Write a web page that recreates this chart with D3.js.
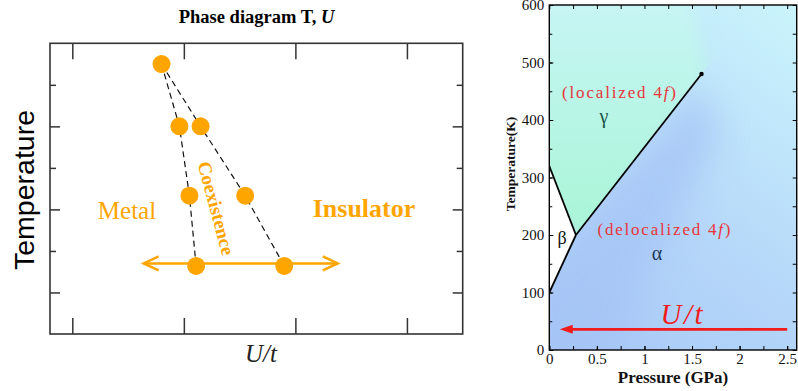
<!DOCTYPE html>
<html>
<head>
<meta charset="utf-8">
<script src="https://cdn.jsdelivr.net/npm/d3@7"></script>
<style>
  body { margin: 0; background: #fff; }
  svg { display: block; }
  text { font-family: "Liberation Serif", "Times New Roman", serif; }
</style>
</head>
<body>
<svg id="chart" width="798" height="391"></svg>
<script>
// ---- left panel: schematic T vs U/t ----
var uTicks = [0.2, 1.2, 2.2, 3.2];
var tOddTicks = [1, 3, 5];       // long inner ticks
var tEvenTicks = [2, 4, 6];      // short inner ticks
var boundT = [6.5, 5.0, 3.33, 1.64];
var metalU = [1.0, 1.16, 1.25, 1.31];
var insulU = [1.0, 1.35, 1.75, 2.1];
var sweepU = [0.84, 2.58];
var sweepT = 1.7;

// ---- right panel: Ce pressure / temperature ----
var pressTicks = [0, 0.5, 1, 1.5, 2, 2.5];
var pressMinor = [0, 0.25, 0.5, 0.75, 1, 1.25, 1.5, 1.75, 2, 2.25, 2.5];
var tempTicks = [0, 100, 200, 300, 400, 500, 600];
var tempMinor = [0, 50, 100, 150, 200, 250, 300, 350, 400, 450, 500, 550, 600];
var gaP = [0.28, 1.6], gaT = [200, 480];       // gamma / alpha line, ends at critical point
var bgP = [0, 0.28],   bgT = [320, 200];       // beta / gamma
var baP = [0, 0.28],   baT = [100, 200];       // beta / alpha
var arrowP = [2.5, 0.11], arrowT = 36;

var svg = d3.select("#chart");
var defs = svg.append("defs");

// ================= LEFT =================
var xL = d3.scaleLinear().domain([0, 3.7]).range([50, 462.7]);
var yL = d3.scaleLinear().domain([0, 7]).range([334, 43.3]);
var L = svg.append("g");
var orange = "#ffa500";

function styleAxis(g, col, w) {
  g.select(".domain").remove();
  g.selectAll(".tick line").attr("stroke", col).attr("stroke-width", w);
}

L.append("g").attr("transform", "translate(0," + yL(7) + ")")
  .call(d3.axisTop(xL).tickValues(uTicks).tickSize(-16).tickFormat(""))
  .call(styleAxis, "#333", 1.5);
L.append("g").attr("transform", "translate(0," + yL(0) + ")")
  .call(d3.axisBottom(xL).tickValues(uTicks).tickSize(-16).tickFormat(""))
  .call(styleAxis, "#333", 1.5);
L.append("g").attr("transform", "translate(" + xL(0) + ",0)")
  .call(d3.axisRight(yL).tickValues(tOddTicks).tickSize(10).tickFormat(""))
  .call(styleAxis, "#333", 1.5);
L.append("g").attr("transform", "translate(" + xL(0) + ",0)")
  .call(d3.axisRight(yL).tickValues(tEvenTicks).tickSize(6).tickFormat(""))
  .call(styleAxis, "#333", 1.5);
L.append("g").attr("transform", "translate(" + xL(3.7) + ",0)")
  .call(d3.axisLeft(yL).tickValues(tOddTicks).tickSize(10).tickFormat(""))
  .call(styleAxis, "#333", 1.5);
L.append("g").attr("transform", "translate(" + xL(3.7) + ",0)")
  .call(d3.axisLeft(yL).tickValues(tEvenTicks).tickSize(6).tickFormat(""))
  .call(styleAxis, "#333", 1.5);

L.append("rect")
  .attr("x", xL(0)).attr("y", yL(7))
  .attr("width", xL(3.7) - xL(0)).attr("height", yL(0) - yL(7))
  .attr("fill", "none").attr("stroke", "#333").attr("stroke-width", 1.6);

// dashed boundaries
var lineL = d3.line().x(function(d) { return xL(d[0]); }).y(function(d) { return yL(d[1]); });
[metalU, insulU].forEach(function(us) {
  L.append("path")
    .datum(us.map(function(u, i) { return [u, boundT[i]]; }))
    .attr("d", lineL)
    .attr("fill", "none").attr("stroke", "#111").attr("stroke-width", 1.2)
    .attr("stroke-dasharray", "6,4");
});

// sweep arrow
L.append("line")
  .attr("x1", xL(sweepU[0])).attr("x2", xL(sweepU[1]))
  .attr("y1", yL(sweepT)).attr("y2", yL(sweepT))
  .attr("stroke", orange).attr("stroke-width", 2.5);
[[sweepU[0], 1], [sweepU[1], -1]].forEach(function(a) {
  var tx = xL(a[0]), ty = yL(sweepT);
  L.append("path")
    .attr("d", "M" + (tx + a[1] * 15) + "," + (ty - 7) + "L" + tx + "," + ty + "L" + (tx + a[1] * 15) + "," + (ty + 7))
    .attr("fill", "none").attr("stroke", orange).attr("stroke-width", 2.5);
});

// points
var pts = [];
metalU.forEach(function(u, i) { pts.push([u, boundT[i]]); });
insulU.forEach(function(u, i) { if (i > 0) pts.push([u, boundT[i]]); });
L.selectAll("circle.pt").data(pts).enter().append("circle")
  .attr("class", "pt")
  .attr("cx", function(d) { return xL(d[0]); })
  .attr("cy", function(d) { return yL(d[1]); })
  .attr("r", 9).attr("fill", orange);

// texts
L.append("text").attr("x", 256.5).attr("y", 23)
  .attr("text-anchor", "middle").attr("font-size", 18.5).attr("font-weight", "bold")
  .text("Phase diagram T, ")
  .append("tspan").attr("font-style", "italic").text("U");

L.append("text").attr("transform", "translate(34,190) rotate(-90)")
  .attr("text-anchor", "middle").attr("font-size", 28.5)
  .style("font-family", "'Liberation Sans', Arial, sans-serif")
  .text("Temperature");

L.append("text").attr("x", 261).attr("y", 362)
  .attr("text-anchor", "middle").attr("font-size", 25).attr("font-style", "italic")
  .attr("fill", "#222").text("U/t");

L.append("text").attr("x", 127).attr("y", 219)
  .attr("text-anchor", "middle").attr("font-size", 25).attr("fill", orange).text("Metal");
L.append("text").attr("x", 364).attr("y", 217)
  .attr("text-anchor", "middle").attr("font-size", 26).attr("font-weight", "bold")
  .attr("fill", orange).text("Insulator");
L.append("text").attr("transform", "translate(210,210) rotate(75)")
  .attr("text-anchor", "middle").attr("font-size", 19).attr("font-weight", "bold")
  .attr("fill", orange).text("Coexistence");

// ================= RIGHT =================
var xR = d3.scaleLinear().domain([0, 2.6]).range([549.3, 796.7]);
var yR = d3.scaleLinear().domain([0, 600]).range([350, 5]);
var R = svg.append("g");
function pts2str(arr) { return arr.map(function(d) { return xR(d[0]) + "," + yR(d[1]); }).join(" "); }

defs.append("clipPath").attr("id", "plotClip").append("rect")
  .attr("x", xR(0)).attr("y", yR(600))
  .attr("width", xR(2.6) - xR(0)).attr("height", yR(0) - yR(600));

var bgGrad = defs.append("linearGradient").attr("id", "bgGrad")
  .attr("gradientUnits", "userSpaceOnUse")
  .attr("x1", xR(0)).attr("y1", yR(0)).attr("x2", xR(2.6)).attr("y2", yR(600));
bgGrad.append("stop").attr("offset", 0).attr("stop-color", "#a8c8f7");
bgGrad.append("stop").attr("offset", 0.45).attr("stop-color", "#b6d8f9");
bgGrad.append("stop").attr("offset", 0.75).attr("stop-color", "#c1e8fb");
bgGrad.append("stop").attr("offset", 1).attr("stop-color", "#caf4fb");

var gmGrad = defs.append("linearGradient").attr("id", "gmGrad")
  .attr("gradientUnits", "userSpaceOnUse")
  .attr("x1", 0).attr("y1", yR(200)).attr("x2", 0).attr("y2", yR(600));
gmGrad.append("stop").attr("offset", 0).attr("stop-color", "#a9f5d6");
gmGrad.append("stop").attr("offset", 0.5).attr("stop-color", "#b7f5e5");
gmGrad.append("stop").attr("offset", 1).attr("stop-color", "#c7f5f4");

var blur = defs.append("filter").attr("id", "soft")
  .attr("x", "-30%").attr("y", "-30%").attr("width", "160%").attr("height", "160%");
blur.append("feGaussianBlur").attr("stdDeviation", 16);
var blur2 = defs.append("filter").attr("id", "soft2")
  .attr("x", "-30%").attr("y", "-30%").attr("width", "160%").attr("height", "160%");
blur2.append("feGaussianBlur").attr("stdDeviation", 9);

var slope = (gaT[1] - gaT[0]) / (gaP[1] - gaP[0]);
var topP = gaP[1] + (600 - gaT[1]) / slope;

var gammaClip = [[0, bgT[0]], [gaP[0], gaT[0]], [topP, 600], [0, 600]];
defs.append("clipPath").attr("id", "gammaClip").append("polygon")
  .attr("points", pts2str(gammaClip));

var inner = R.append("g").attr("clip-path", "url(#plotClip)");
inner.append("rect")
  .attr("x", xR(0)).attr("y", yR(600))
  .attr("width", xR(2.6) - xR(0)).attr("height", yR(0) - yR(600))
  .attr("fill", "url(#bgGrad)");

// darker blue band along the alpha side of the transition line
var shade = [[-0.3, -50], [-0.3, 100], [gaP[0], gaT[0]], [gaP[1] - 0.05, gaT[1] - 20], [1.8, 380], [1.0, 120], [0.7, -50]];
inner.append("polygon")
  .attr("points", pts2str(shade))
  .attr("fill", "#a4c3f6").attr("opacity", 0.7).attr("filter", "url(#soft)");

// gamma region (soft beyond the critical point)
var gammaFill = [[-0.3, 330], [gaP[0] + 0.05, 170], [gaP[1] + 0.1, 470], [1.5, 600], [1.5, 700], [-0.3, 700]];
inner.append("g").attr("clip-path", "url(#gammaClip)")
  .append("polygon")
  .attr("points", pts2str(gammaFill))
  .attr("fill", "url(#gmGrad)").attr("filter", "url(#soft2)");

// beta region
var betaPoly = [[0, bgT[0]], [gaP[0], gaT[0]], [0, baT[0]]];
inner.append("polygon").attr("points", pts2str(betaPoly)).attr("fill", "#fff");

// phase lines
var lineR = d3.line().x(function(d) { return xR(d[0]); }).y(function(d) { return yR(d[1]); });
[[gaP, gaT], [bgP, bgT], [baP, baT]].forEach(function(s) {
  inner.append("path")
    .datum(s[0].map(function(p, i) { return [p, s[1][i]]; }))
    .attr("d", lineR).attr("fill", "none").attr("stroke", "#000").attr("stroke-width", 1.8);
});
inner.append("circle").attr("cx", xR(gaP[1])).attr("cy", yR(gaT[1])).attr("r", 2.2).attr("fill", "#000");

// red U/t arrow
var red = "#f01c1c";
inner.append("line")
  .attr("x1", xR(arrowP[0])).attr("x2", xR(arrowP[1]) + 10)
  .attr("y1", yR(arrowT)).attr("y2", yR(arrowT))
  .attr("stroke", red).attr("stroke-width", 2.8);
var tipX = xR(arrowP[1]), tipY = yR(arrowT);
inner.append("path")
  .attr("d", "M" + tipX + "," + tipY + "L" + (tipX + 13) + "," + (tipY - 4.5) + "L" + (tipX + 13) + "," + (tipY + 4.5) + "Z")
  .attr("fill", red);
R.append("text").attr("x", xR(1.39)).attr("y", yR(45))
  .attr("text-anchor", "middle").attr("font-size", 29).attr("font-style", "italic")
  .attr("fill", red).attr("textLength", 42).attr("lengthAdjust", "spacing").text("U/t");

// phase labels
function phaseLabel(txt, cx, by, w) {
  var t = R.append("text").attr("x", cx).attr("y", by)
    .attr("text-anchor", "middle").attr("font-size", 17).attr("fill", "#e8343a")
    .attr("textLength", w).attr("lengthAdjust", "spacing");
  t.append("tspan").text(txt + " 4");
  t.append("tspan").attr("font-style", "italic").text("f");
  t.append("tspan").text(")");
}
phaseLabel("(localized", 619, 98, 114);
phaseLabel("(delocalized", 664, 235, 133);

R.append("text").attr("x", 604).attr("y", 123).attr("text-anchor", "middle")
  .attr("font-size", 20).attr("fill", "#1d5748").text("γ");
R.append("text").attr("x", 657).attr("y", 260).attr("text-anchor", "middle")
  .attr("font-size", 20).attr("fill", "#1b3858").text("α");
R.append("text").attr("x", 562).attr("y", 244).attr("text-anchor", "middle")
  .attr("font-size", 18).attr("fill", "#111").text("β");

// axes
var plainFmt = function(d) { return String(d); };
R.append("g").attr("transform", "translate(" + xR(0) + ",0)")
  .call(d3.axisLeft(yR).tickValues(tempTicks).tickSize(-4).tickPadding(5).tickFormat(plainFmt))
  .call(styleAxis, "#000", 1)
  .selectAll("text").attr("font-size", 15).attr("fill", "#111")
  .style("font-family", "'Liberation Serif', serif");
R.append("g").attr("transform", "translate(" + xR(0) + ",0)")
  .call(d3.axisLeft(yR).tickValues(tempMinor).tickSize(-3).tickFormat(""))
  .call(styleAxis, "#000", 1);
R.append("g").attr("transform", "translate(" + xR(2.6) + ",0)")
  .call(d3.axisRight(yR).tickValues(tempMinor).tickSize(-4).tickFormat(""))
  .call(styleAxis, "#000", 1);
R.append("g").attr("transform", "translate(0," + yR(0) + ")")
  .call(d3.axisBottom(xR).tickValues(pressTicks).tickSize(-4).tickPadding(3).tickFormat(plainFmt))
  .call(styleAxis, "#000", 1)
  .selectAll("text").attr("font-size", 15).attr("fill", "#111")
  .style("font-family", "'Liberation Serif', serif");
R.append("g").attr("transform", "translate(0," + yR(0) + ")")
  .call(d3.axisBottom(xR).tickValues(pressMinor).tickSize(-4).tickFormat(""))
  .call(styleAxis, "#000", 1);
R.append("g").attr("transform", "translate(0," + yR(600) + ")")
  .call(d3.axisTop(xR).tickValues(pressMinor).tickSize(-4).tickFormat(""))
  .call(styleAxis, "#000", 1);

R.append("rect")
  .attr("x", xR(0)).attr("y", yR(600))
  .attr("width", xR(2.6) - xR(0)).attr("height", yR(0) - yR(600))
  .attr("fill", "none").attr("stroke", "#000").attr("stroke-width", 1.4);

R.append("text").attr("transform", "translate(515,164) rotate(-90)")
  .attr("text-anchor", "middle").attr("font-size", 13.5).attr("font-weight", "bold")
  .attr("fill", "#111").text("Temperature(K)");
R.append("text").attr("x", 673).attr("y", 383)
  .attr("text-anchor", "middle").attr("font-size", 17).attr("font-weight", "bold")
  .attr("fill", "#111").text("Pressure (GPa)");
</script>
</body>
</html>
